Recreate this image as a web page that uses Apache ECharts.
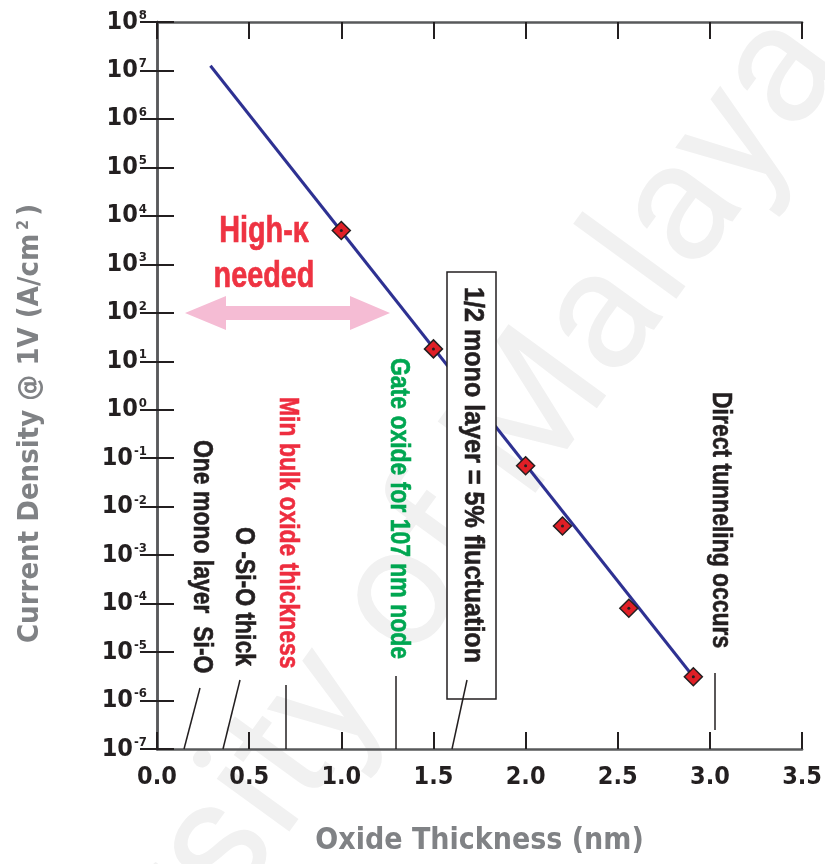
<!DOCTYPE html>
<html>
<head>
<meta charset="utf-8">
<script src="https://cdn.jsdelivr.net/npm/echarts@6/dist/echarts.min.js"></script>
<style>
html, body { margin: 0; padding: 0; background: #fff; }
#chart { width: 825px; height: 864px; }
</style>
</head>
<body>
<div id="chart"></div>
<script>
// measured points (oxide thickness in nm, current density in A/cm2)
var thickness = [1.0, 1.5, 2.0, 2.2, 2.56, 2.91];
var density = [5e3, 18, 0.07, 0.004, 8e-5, 3.1e-6];

// fitted straight line on the log plot
var fitThickness = [0.29, 2.91];
var fitDensity = [1.25e7, 3.1e-6];

var xMin = 0, xMax = 3.5, xStep = 0.5;
var yMin = 1e-7, yMax = 1e8;

var FONT = '"DejaVu Sans Condensed", "Liberation Sans", sans-serif';
var NARROW = '"Liberation Sans", Arial, sans-serif';   // squeezed with scaleX below
var INK = '#231f20';
var GREY = '#808285';

function pairs(xs, ys) {
  return xs.map(function (x, i) { return [x, ys[i]]; });
}

// text written top-to-bottom (turned 90deg clockwise)
function vText(txt, x, y, color, sx) {
  return {
    type: 'text', x: x, y: y, rotation: -Math.PI / 2, scaleX: sx || 0.85, z: 20, silent: true,
    style: {
      text: txt, fill: color || INK, stroke: color || INK, lineWidth: 0.6,
      font: 'bold 27px ' + NARROW, align: 'left', verticalAlign: 'middle'
    }
  };
}
function leader(x1, y1, x2, y2) {
  return {
    type: 'line', z: 20, silent: true,
    shape: { x1: x1, y1: y1, x2: x2, y2: y2 },
    style: { stroke: INK, lineWidth: 1.5 }
  };
}

function tunnelchart() {
  var chart = echarts.init(document.getElementById('chart'));

  var axisLine = { show: true, lineStyle: { color: '#58595b', width: 2.5 } };
  var axisTick = { show: true, inside: true, length: 17, lineStyle: { color: INK, width: 2 } };

  var option = {
    animation: false,
    backgroundColor: '#fff',
    grid: { left: 157, right: 19, top: 22, bottom: 115 },
    xAxis: [
      {
        type: 'value', min: xMin, max: xMax, interval: xStep, position: 'bottom',
        axisLine: axisLine, axisTick: axisTick, splitLine: { show: false },
        axisLabel: {
          margin: 16, color: INK, fontFamily: FONT, fontWeight: 'bold', fontSize: 25,
          formatter: function (v) { return v.toFixed(1); }
        },
        name: 'Oxide Thickness (nm)', nameLocation: 'middle', nameGap: 77,
        nameTextStyle: { color: GREY, fontFamily: FONT, fontWeight: 'bold', fontSize: 30 }
      },
      {
        type: 'value', min: xMin, max: xMax, interval: xStep, position: 'top',
        axisLine: axisLine, axisTick: axisTick, splitLine: { show: false },
        axisLabel: { show: false }
      }
    ],
    yAxis: [
      {
        type: 'log', logBase: 10, min: yMin, max: yMax, interval: 1, splitNumber: 15,
        axisLine: axisLine, axisTick: axisTick, splitLine: { show: false }, minorTick: { show: false },
        axisLabel: {
          margin: 10, color: INK,
          formatter: function (v) {
            return '{b|10}{s|' + Math.round(Math.log10(v)) + '}';
          },
          rich: {
            b: { fontFamily: FONT, fontWeight: 'bold', fontSize: 25, color: INK, lineHeight: 26 },
            s: { fontFamily: FONT, fontWeight: 'bold', fontSize: 13, color: INK, verticalAlign: 'top', padding: [0, 0, 0, 1] }
          }
        },
        name: 'Current Density @ 1V (A/cm{s|2})', nameLocation: 'middle', nameGap: 112, nameRotate: 90,
        nameTextStyle: {
          color: GREY, fontFamily: FONT, fontWeight: 'bold', fontSize: 29, padding: [0, 76, 0, 0],
          rich: { s: { color: GREY, fontFamily: FONT, fontWeight: 'bold', fontSize: 16, verticalAlign: 'top', padding: [0, 4, 0, 4] } }
        }
      },
      {
        type: 'log', logBase: 10, min: yMin, max: yMax, interval: 1, splitNumber: 15, position: 'right',
        axisLine: axisLine, axisTick: axisTick, splitLine: { show: false }, minorTick: { show: false },
        axisLabel: { show: false }
      }
    ],
    series: [
      {
        type: 'line', data: pairs(fitThickness, fitDensity), symbol: 'none', z: 3,
        lineStyle: { color: '#2e3192', width: 3 }
      },
      {
        type: 'scatter', data: pairs(thickness, density), symbol: 'diamond', symbolSize: 18, z: 4,
        itemStyle: { color: '#e01f26', borderColor: INK, borderWidth: 1.5, opacity: 1 }
      },
      {
        type: 'scatter', data: pairs(thickness, density), symbol: 'circle', symbolSize: 3, z: 5,
        itemStyle: { color: INK, opacity: 1 }
      }
    ],
    graphic: [
      {
        type: 'text', x: 365, y: 655, rotation: 54 * Math.PI / 180, z: -1, silent: true,
        style: {
          text: 'University of Malaya', fill: '#f1f1f1', font: '170px Roboto, sans-serif',
          align: 'center', verticalAlign: 'middle'
        }
      },
      {
        type: 'polygon', z: 20, silent: true,
        shape: { points: [[185, 313], [226, 296], [226, 306], [350, 306], [350, 296], [390, 313],
                          [350, 330], [350, 320], [226, 320], [226, 330]] },
        style: { fill: '#f5bcd4' }
      },
      {
        type: 'text', x: 264, y: 232, scaleX: 0.8, z: 20, silent: true,
        style: { text: 'High-κ', fill: '#ee3342', stroke: '#ee3342', lineWidth: 0.7,
                 font: 'bold 36px ' + NARROW, align: 'center', verticalAlign: 'middle' }
      },
      {
        type: 'text', x: 264, y: 277, scaleX: 0.8, z: 20, silent: true,
        style: { text: 'needed', fill: '#ee3342', stroke: '#ee3342', lineWidth: 0.7,
                 font: 'bold 36px ' + NARROW, align: 'center', verticalAlign: 'middle' }
      },
      vText('One mono layer  Si-O', 201, 440),
      leader(200, 688, 184, 749),
      vText('O -Si-O thick', 243, 527),
      leader(240, 680, 223, 749),
      vText('Min bulk oxide thickness', 287, 397, '#ee2d3f'),
      leader(286, 685, 286, 749),
      vText('Gate oxide for 107 nm node', 398, 358, '#00a651'),
      leader(396, 676, 396, 749),
      {
        type: 'rect', z: 19, silent: true,
        shape: { x: 447, y: 272, width: 49, height: 427 },
        style: { fill: '#fff', stroke: INK, lineWidth: 1.5 }
      },
      vText('1/2 mono layer = 5% fluctuation', 472, 287, INK, 0.93),
      leader(467, 680, 452, 749),
      vText('Direct tunneling occurs', 720, 392),
      leader(715, 673, 715, 730)
    ]
  };
  chart.setOption(option);
}

window.onload = function () {
  tunnelchart();
};
</script>
</body>
</html>
